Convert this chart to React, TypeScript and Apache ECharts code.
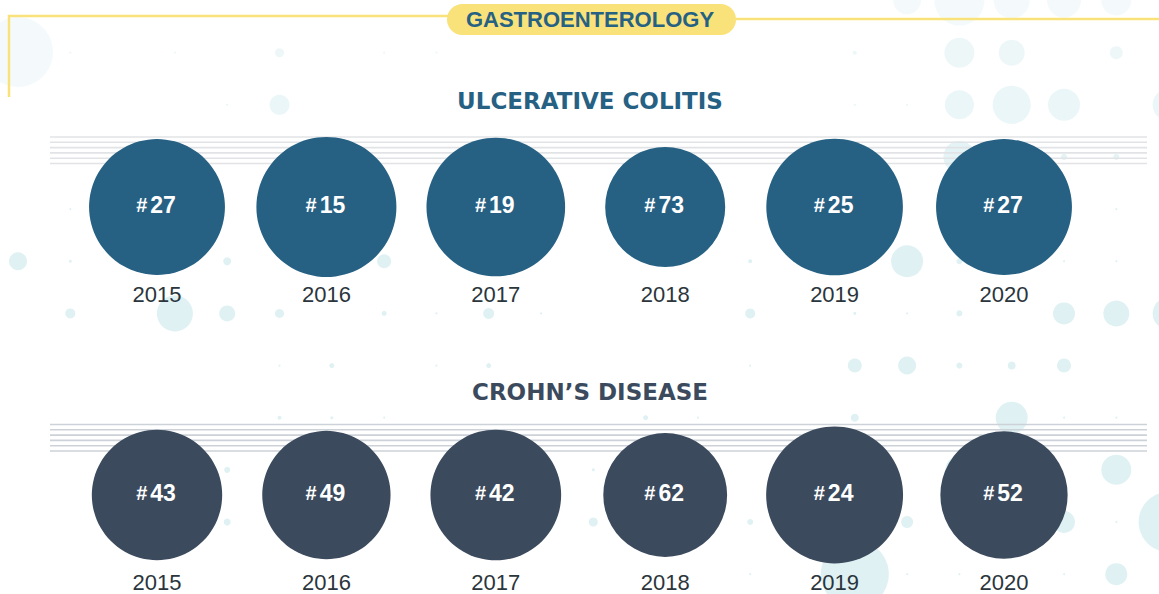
import React, { useEffect, useRef } from "react";
import * as echarts from "echarts";

// ---- data ----
const years = ["2015", "2016", "2017", "2018", "2019", "2020"];
const ulcerativeColitisRanks = [27, 15, 19, 73, 25, 27];
const crohnsDiseaseRanks = [43, 49, 42, 62, 24, 52];
const headerText = "GASTROENTEROLOGY";
const ucTitle = "ULCERATIVE COLITIS";
const cdTitle = "CROHN\u2019S DISEASE";

// decorative background dots: [column, row, radius]
const bgDots: [number, number, number][] = [
  [17, 0, 14], [18, 0, 25], [19, 0, 18], [20, 0, 17], [21, 0, 15],
  [1, 1, 1], [3, 1, 1], [5, 1, 4.5], [7, 1, 1], [8, 1, 1], [16, 1, 2], [18, 1, 15], [19, 1, 13], [21, 1, 6.5],
  [4, 2, 1], [5, 2, 10], [16, 2, 1], [17, 2, 1], [18, 2, 14.5], [19, 2, 19], [20, 2, 16], [22, 2, 16],
  [18, 3, 16], [19, 3, 16], [20, 3, 3], [21, 3, 3],
  [1, 4, 1], [21, 4, 1],
  [0, 5, 9], [1, 5, 1.5], [4, 5, 4], [7, 5, 7], [14, 5, 2], [17, 5, 16], [18, 5, 3], [20, 5, 1], [21, 5, 1],
  [1, 6, 5], [3, 6, 18], [4, 6, 8], [5, 6, 4.5], [7, 6, 2.5], [8, 6, 1], [9, 6, 5.5], [10, 6, 1], [14, 6, 5],
  [16, 6, 1.5], [17, 6, 1], [18, 6, 3], [20, 6, 11], [21, 6, 13], [22, 6, 16],
  [5, 7, 1], [6, 7, 2.5], [8, 7, 1], [9, 7, 2.5], [14, 7, 1], [16, 7, 7], [17, 7, 9], [18, 7, 3], [19, 7, 4], [20, 7, 7],
  [5, 8, 2], [6, 8, 1.5], [7, 8, 1], [12, 8, 2.5], [13, 8, 1], [16, 8, 4], [19, 8, 16], [20, 8, 1], [21, 8, 1],
  [4, 9, 3], [11, 9, 1.5], [18, 9, 14], [21, 9, 15],
  [4, 10, 3.5], [7, 10, 1], [11, 10, 4.5], [14, 10, 3], [17, 10, 6], [20, 10, 11], [21, 10, 1], [22, 10, 30],
  [14, 11, 1], [16, 11, 34], [17, 11, 1], [18, 11, 1], [20, 11, 1], [21, 11, 11],
];

const UC_COLOR = "#266184";
const CD_COLOR = "#3b4a5d";
const YEAR_COLOR = "#2b353c";
const YELLOW = "#f9e27a";
const DOT_COLOR = "#dff1f3";

// rank -> circle diameter (higher rank = bigger circle)
const rankToSize = (rank: number) => 145.2 - 0.345 * rank;

function buildGraphic() {
  const els: any[] = [];
  const fade = [0.35, 0.55, 0.65, 0.85];
  els.push({
    type: "circle", silent: true, z: 0,
    shape: { cx: 18, cy: 52, r: 35 },
    style: { fill: DOT_COLOR, opacity: 0.35 },
  });
  bgDots.forEach(([c, r, rad]) => {
    els.push({
      type: "circle", silent: true, z: 0,
      shape: { cx: 18 + 52.3 * c, cy: 0.5 + 52.15 * r, r: rad },
      style: { fill: DOT_COLOR, opacity: r < fade.length ? fade[r] : 1 },
    });
  });
  const staves = [
    { top: 137, color: "#e2e3e6" },
    { top: 424.5, color: "#cdd2d9" },
  ];
  staves.forEach((s) => {
    for (let i = 0; i < 6; i++) {
      const y = s.top + i * 5.3;
      els.push({
        type: "line", silent: true, z: 1,
        shape: { x1: 50, y1: y, x2: 1147, y2: y },
        style: { stroke: s.color, lineWidth: 1.6 },
      });
    }
  });
  els.push({
    type: "polyline", silent: true, z: 1,
    shape: { points: [[9, 97], [9, 16], [450, 16]] },
    style: { stroke: YELLOW, lineWidth: 2.5, fill: null },
  });
  els.push({
    type: "line", silent: true, z: 1,
    shape: { x1: 730, y1: 19, x2: 1159, y2: 19 },
    style: { stroke: YELLOW, lineWidth: 2.5 },
  });
  els.push({
    type: "rect", silent: true, z: 2,
    shape: { x: 447, y: 4, width: 289, height: 31, r: 15.5 },
    style: { fill: YELLOW },
  });
  els.push({
    type: "text", silent: true, z: 3,
    x: 590, y: 19,
    style: {
      text: headerText, fill: UC_COLOR,
      font: 'bold 22px "Liberation Sans", Arial, sans-serif',
      align: "center", verticalAlign: "middle",
      textAlign: "center", textVerticalAlign: "middle",
    },
  });
  els.push({
    type: "text", silent: true, z: 3,
    x: 590, y: 101,
    style: {
      text: ucTitle, fill: UC_COLOR,
      font: 'bold 23px "DejaVu Sans", sans-serif',
      align: "center", verticalAlign: "middle",
      textAlign: "center", textVerticalAlign: "middle",
    },
  });
  els.push({
    type: "text", silent: true, z: 3,
    x: 590, y: 392,
    style: {
      text: cdTitle, fill: CD_COLOR,
      font: 'bold 23px "DejaVu Sans", sans-serif',
      align: "center", verticalAlign: "middle",
      textAlign: "center", textVerticalAlign: "middle",
    },
  });
  return els;
}

const FONT = '"Liberation Sans", Arial, sans-serif';

function makeSeries(ranks: number[], idx: number, color: string) {
  return {
    type: "scatter",
    xAxisIndex: idx,
    yAxisIndex: idx,
    z: 5,
    silent: true,
    data: ranks.map((r, i) => [i, 1, r]),
    symbol: "circle",
    symbolSize: (v: number[]) => rankToSize(v[2]),
    itemStyle: { color, opacity: 1 },
    label: {
      show: true,
      position: "inside",
      offset: [-1, -2],
      formatter: (p: any) => `{h|#}{n|${p.value[2]}}`,
      rich: {
        h: { fontSize: 20, fontWeight: "bold", color: "#ffffff", fontFamily: FONT, padding: [0, 3, 0, 0] },
        n: { fontSize: 23, fontWeight: "bold", color: "#ffffff", fontFamily: FONT },
      },
    },
  };
}

function makeXAxis(idx: number) {
  return {
    type: "category",
    gridIndex: idx,
    data: years,
    boundaryGap: true,
    axisLine: { show: false },
    axisTick: { show: false },
    splitLine: { show: false },
    axisLabel: { fontSize: 22, color: YEAR_COLOR, fontFamily: FONT, margin: 5 },
  };
}

function makeYAxis(idx: number) {
  return { type: "value", gridIndex: idx, min: 0, max: 2, show: false };
}

export default function App() {
  const ref = useRef<HTMLDivElement>(null);
  useEffect(() => {
    if (!ref.current) return;
    const chart = echarts.init(ref.current, undefined, { renderer: "svg" });
    chart.setOption({
      animation: false,
      backgroundColor: "#ffffff",
      grid: [
        { left: 72.3, width: 1016.4, top: 136, height: 142 },
        { left: 72.3, width: 1016.4, top: 424, height: 142 },
      ],
      xAxis: [makeXAxis(0), makeXAxis(1)],
      yAxis: [makeYAxis(0), makeYAxis(1)],
      graphic: { elements: buildGraphic() },
      series: [
        makeSeries(ulcerativeColitisRanks, 0, UC_COLOR),
        makeSeries(crohnsDiseaseRanks, 1, CD_COLOR),
      ],
    });
    return () => chart.dispose();
  }, []);
  return (
    <div
      ref={ref}
      style={{ position: "absolute", left: 0, top: 0, width: 1159, height: 594, background: "#fff" }}
    />
  );
}
